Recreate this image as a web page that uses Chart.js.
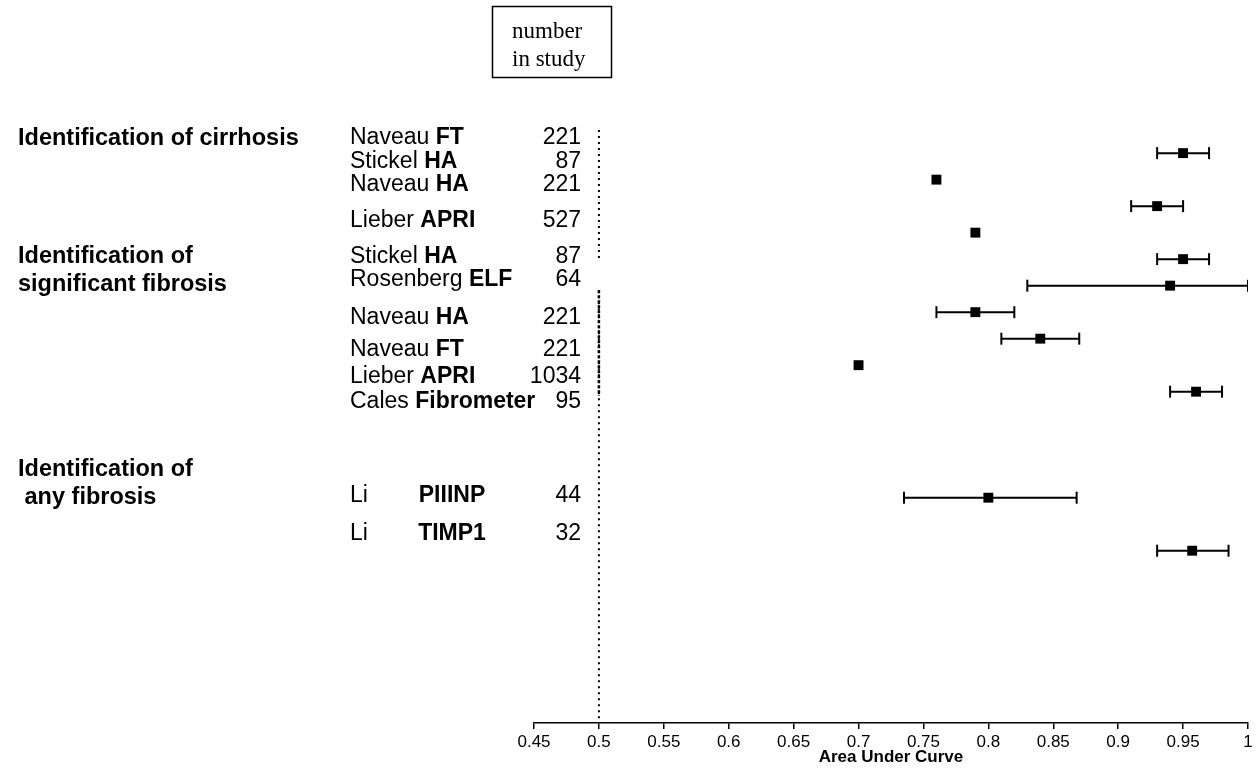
<!DOCTYPE html>
<html>
<head>
<meta charset="utf-8">
<title>Area under curve by study</title>
<script src="https://cdn.jsdelivr.net/npm/chart.js@4.4.1/dist/chart.umd.min.js"></script>
<style>
  html, body { margin: 0; padding: 0; background: #fff; }
  #wrap { width: 1256px; height: 771px; }
</style>
</head>
<body>
<div id="wrap"><canvas id="forest" width="1256" height="771"></canvas></div>
<script>
// studies, top to bottom
const authors   = ['Naveau', 'Stickel', 'Naveau', 'Lieber', 'Stickel', 'Rosenberg', 'Naveau', 'Naveau', 'Lieber', 'Cales', 'Li', 'Li'];
const tests     = ['FT', 'HA', 'HA', 'APRI', 'HA', 'ELF', 'HA', 'FT', 'APRI', 'Fibrometer', 'PIIINP', 'TIMP1'];
const nInStudy  = [221, 87, 221, 527, 87, 64, 221, 221, 1034, 95, 44, 32];
const auc       = [0.95, 0.76, 0.93, 0.79, 0.95, 0.94, 0.79, 0.84, 0.70, 0.96, 0.80, 0.957];
const ciLow     = [0.93, null, 0.91, null, 0.93, 0.83, 0.76, 0.81, null, 0.94, 0.735, 0.93];
const ciHigh    = [0.97, null, 0.95, null, 0.97, 1.00, 0.82, 0.87, null, 0.98, 0.868, 0.985];

// row slots (y axis units) - the marks and the text column don't line up in the original
const markRows  = [0, 1, 2, 3, 4, 5, 6, 7, 8, 9, 13, 15];
const labelRows = [-0.57, 0.34, 1.2, 2.53, 3.92, 4.79, 6.19, 7.43, 8.42, 9.36, 12.94, 14.34];

const groupTitles = [
  ['Identification of cirrhosis'],
  ['Identification of', 'significant fibrosis'],
  ['Identification of', ' any fibrosis']
];
const groupRows = [-0.55, 3.9, 11.94];

const xTickValues = [0.45, 0.5, 0.55, 0.6, 0.65, 0.7, 0.75, 0.8, 0.85, 0.9, 0.95, 1];
const xTickLabels = ['0.45', '0.5', '0.55', '0.6', '0.65', '0.7', '0.75', '0.8', '0.85', '0.9', '0.95', '1'];

// no-discrimination line at 0.5
const refAUC     = 0.5;
const refDotted  = [[-0.87, 4.04], [5.17, 21.4]];
const refDense   = [5.17, 9.15];

const SANS  = '"Liberation Sans", Arial, sans-serif';
const SERIF = '"Liberation Serif", "Times New Roman", serif';

// error bars: one little line per study, caps are rotated 'line' points
const ciSets = auc.map((v, i) => {
  if (ciLow[i] == null) return null;
  return {
    data: [{ x: ciLow[i], y: markRows[i] }, { x: ciHigh[i], y: markRows[i] }],
    showLine: true,
    borderColor: '#000',
    borderWidth: 2,
    pointStyle: 'line',
    rotation: 90,
    pointRadius: 6,
    pointBorderWidth: 2,
    pointBorderColor: '#000',
    order: 2
  };
}).filter(Boolean);

const refSets = refDotted.map(seg => ({
  data: [{ x: refAUC, y: seg[0] }, { x: refAUC, y: seg[1] }],
  showLine: true,
  borderColor: '#000',
  borderWidth: 2,
  borderDash: [2, 4],
  pointRadius: 0,
  order: 3
}));
refSets.push({
  data: [{ x: refAUC, y: refDense[0] }, { x: refAUC, y: refDense[1] }],
  showLine: true,
  borderColor: '#000',
  borderWidth: 2.5,
  borderDash: [3, 2],
  pointRadius: 0,
  order: 3
});

const markSet = {
  data: auc.map((v, i) => ({ x: v, y: markRows[i] })),
  pointStyle: 'rect',
  pointRadius: 7,
  backgroundColor: '#000',
  borderColor: '#000',
  borderWidth: 0,
  order: 1
};

// text column on the left + the "number in study" box
const sideText = {
  id: 'sideText',
  afterDraw(chart) {
    const ctx = chart.ctx;
    const ys = chart.scales.y;
    ctx.save();
    ctx.fillStyle = '#000';
    ctx.textBaseline = 'middle';

    ctx.font = 'bold 23.5px ' + SANS;
    ctx.textAlign = 'left';
    groupTitles.forEach((lines, g) => {
      const y0 = ys.getPixelForValue(groupRows[g]);
      lines.forEach((t, k) => ctx.fillText(t, 18, y0 + k * 28));
    });

    authors.forEach((a, i) => {
      const y = ys.getPixelForValue(labelRows[i]);
      ctx.font = '23px ' + SANS;
      ctx.textAlign = 'left';
      ctx.fillText(a, 350, y);
      const w = ctx.measureText(a + ' ').width;
      ctx.font = 'bold 23px ' + SANS;
      if (a === 'Li') {
        ctx.textAlign = 'center';
        ctx.fillText(tests[i], 452, y);
      } else {
        ctx.fillText(tests[i], 350 + w, y);
      }
      ctx.font = '23px ' + SANS;
      ctx.textAlign = 'right';
      ctx.fillText(String(nInStudy[i]), 581, y);
    });

    // header box
    ctx.lineWidth = 1.5;
    ctx.strokeStyle = '#000';
    ctx.strokeRect(492.5, 6.5, 119, 71);
    ctx.beginPath();
    ctx.rect(493, 7, 118, 70);
    ctx.clip();
    ctx.font = '23px ' + SERIF;
    ctx.textAlign = 'left';
    ctx.fillText('number', 512, 32);
    ctx.fillText('in study', 512, 60);
    ctx.restore();
  }
};

new Chart(document.getElementById('forest'), {
  type: 'scatter',
  data: { datasets: [markSet, ...ciSets, ...refSets] },
  options: {
    responsive: false,
    animation: false,
    events: [],
    layout: { padding: { left: 534, right: 6, top: 10, bottom: 0 } },
    plugins: { legend: { display: false }, tooltip: { enabled: false } },
    scales: {
      x: {
        type: 'linear',
        min: 0.45,
        max: 1,
        afterBuildTicks: s => { s.ticks = xTickValues.map(v => ({ value: v })); },
        afterFit: s => { s.height = 48; },
        border: { display: true, color: '#000', width: 1.5 },
        grid: { drawOnChartArea: false, drawTicks: true, tickLength: 6, color: '#000', lineWidth: 1.5 },
        ticks: {
          color: '#000',
          padding: 3,
          maxRotation: 0,
          autoSkip: false,
          font: { family: SANS, size: 17 },
          callback: (v, i) => xTickLabels[i]
        },
        title: {
          display: true,
          text: 'Area Under Curve',
          color: '#000',
          padding: { top: 0, bottom: 3 },
          font: { family: SANS, size: 17, weight: 'bold' }
        }
      },
      y: {
        type: 'linear',
        reverse: true,
        min: -5.4,
        max: 21.5,
        display: false
      }
    }
  },
  plugins: [sideText]
});
</script>
</body>
</html>
